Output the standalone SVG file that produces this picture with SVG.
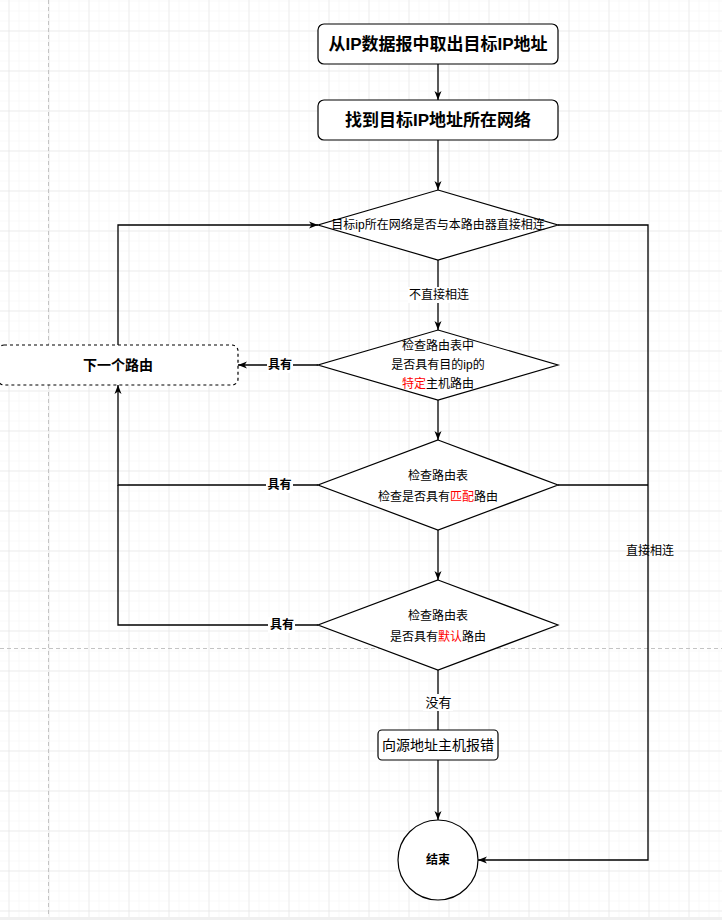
<svg xmlns="http://www.w3.org/2000/svg" width="722" height="920" viewBox="0 0 722 920">
<defs>
<pattern id="minor" width="10" height="10" patternUnits="userSpaceOnUse" x="8.5" y="0.5"><path d="M0 0V10M0 0H10" stroke="#f3f3f3" stroke-width="1" fill="none"/></pattern>
<pattern id="major" width="40" height="40" patternUnits="userSpaceOnUse" x="8.5" y="30.5"><path d="M0 0V40M0 0H40" stroke="#e2e2e2" stroke-width="1" fill="none"/></pattern>
<marker id="arr" markerUnits="userSpaceOnUse" markerWidth="10" markerHeight="8" refX="9" refY="3.5" orient="auto" overflow="visible"><path d="M0,0 L9,3.5 L0,7 L2.5,3.5 Z" fill="#000"/></marker>
</defs>
<style>
.shape{fill:#fff;stroke:#000;stroke-width:1.2}
.edge{fill:none;stroke:#000;stroke-width:1.3}
.t{font-family:"Liberation Sans","Noto Sans CJK SC",sans-serif;fill:#000;text-anchor:middle;dominant-baseline:central}
.s12{font-size:12px}
.b{font-weight:bold}
.red{fill:#ff0000}
.lbg{fill:#fff}
</style>
<g id="background">
<rect width="722" height="920" fill="#fff"/>
<rect width="722" height="920" fill="url(#minor)"/>
<rect width="722" height="920" fill="url(#major)"/>
<path d="M48.5 0V920M0 648.5H722" stroke="#c4c4c4" stroke-width="1" stroke-dasharray="4 3" fill="none"/>
<rect x="0" y="917" width="722" height="3" fill="#f0f0f0"/>
</g>
<g id="connectors">
<path class="edge" d="M438 64V100" marker-end="url(#arr)"/>
<path class="edge" d="M438 140V190" marker-end="url(#arr)"/>
<path class="edge" d="M438 260V330" marker-end="url(#arr)"/>
<path class="edge" d="M318 365H238" marker-end="url(#arr)"/>
<path class="edge" d="M118 345V225H318" marker-end="url(#arr)"/>
<path class="edge" d="M438 400V440" marker-end="url(#arr)"/>
<path class="edge" d="M318 485H118V385" marker-end="url(#arr)"/>
<path class="edge" d="M438 530V580" marker-end="url(#arr)"/>
<path class="edge" d="M318 625H118V485"/>
<path class="edge" d="M438 670V730"/>
<path class="edge" d="M438 760V820" marker-end="url(#arr)"/>
<path class="edge" d="M558 225H648V860H478" marker-end="url(#arr)"/>
<path class="edge" d="M558 485H648"/>
<rect class="lbg" x="408" y="287" width="62" height="16"/>
<text class="t s12" x="439" y="295">不直接相连</text>
<rect class="lbg" x="267" y="357" width="26" height="16"/>
<text class="t s12 b" x="280" y="365">具有</text>
<rect class="lbg" x="266" y="477" width="27" height="16"/>
<text class="t s12 b" x="279.5" y="485">具有</text>
<rect class="lbg" x="268" y="617" width="27" height="16"/>
<text class="t s12 b" x="282" y="625">具有</text>
<rect class="lbg" x="423" y="694" width="30" height="17"/>
<text class="t" x="438.5" y="702" style="font-size:13px">没有</text>
<text class="t s12" x="650" y="551">直接相连</text>
</g>
<g id="n1">
<rect class="shape" x="318" y="24" width="240" height="40" rx="6"/>
<text class="t b" x="438" y="44" style="font-size:17px">从IP数据报中取出目标IP地址</text>
</g>
<g id="n2">
<rect class="shape" x="318" y="100" width="240" height="40" rx="6"/>
<text class="t b" x="438" y="120" style="font-size:17px">找到目标IP地址所在网络</text>
</g>
<g id="d1">
<polygon class="shape" points="438,190 558,225 438,260 318,225"/>
<text class="t s12" x="438" y="225">目标ip所在网络是否与本路由器直接相连</text>
</g>
<g id="d2">
<polygon class="shape" points="438,330 558,365 438,400 318,365"/>
<text class="t s12" x="438" y="346">检查路由表中</text>
<text class="t s12" x="438" y="365">是否具有目的ip的</text>
<text class="t s12" x="438" y="384"><tspan class="red">特定</tspan>主机路由</text>
</g>
<g id="next">
<rect x="-2" y="345" width="240" height="40" rx="6" fill="#fff" stroke="#000" stroke-width="1.2" stroke-dasharray="3 3"/>
<text class="t b" x="118" y="365" style="font-size:14px">下一个路由</text>
</g>
<g id="d3">
<polygon class="shape" points="438,440 558,485 438,530 318,485"/>
<text class="t s12" x="438" y="476">检查路由表</text>
<text class="t s12" x="438" y="497">检查是否具有<tspan class="red">匹配</tspan>路由</text>
</g>
<g id="d4">
<polygon class="shape" points="438,580 558,625 438,670 318,625"/>
<text class="t s12" x="438" y="616">检查路由表</text>
<text class="t s12" x="438" y="637">是否具有<tspan class="red">默认</tspan>路由</text>
</g>
<g id="err">
<rect class="shape" x="378" y="730" width="120" height="30" rx="4"/>
<text class="t" x="438" y="745" style="font-size:14px">向源地址主机报错</text>
</g>
<g id="end">
<circle class="shape" cx="438" cy="860" r="40"/>
<text class="t s12 b" x="438" y="860">结束</text>
</g>
</svg>
